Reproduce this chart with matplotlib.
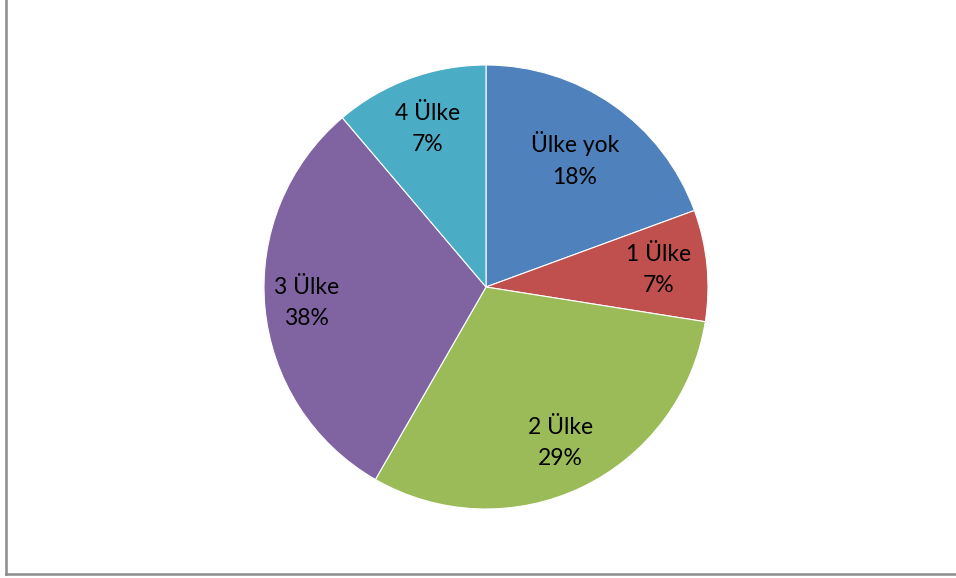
import matplotlib.pyplot as plt
import numpy as np

# slice labels as printed on the chart
categories = ["Ülke yok", "1 Ülke", "2 Ülke", "3 Ülke", "4 Ülke"]
pct_labels = ["18%", "7%", "29%", "38%", "7%"]
# slice sizes as drawn
values = [19.4, 8.1, 30.8, 30.5, 11.2]
colors = ["#4F81BD", "#C0504D", "#9BBB59", "#8064A2", "#4BACC6"]
label_dist = [0.70, 0.78, 0.78, 0.81, 0.76]

W, H = 956, 578
fig = plt.figure(figsize=(W / 100, H / 100), dpi=100)
ax = fig.add_axes([0, 0, 1, 1])

cx, cy, r = 486, H - 287, 222
wedges, _ = ax.pie(values, colors=colors, startangle=90, counterclock=False,
                   center=(cx, cy), radius=r, frame=True,
                   wedgeprops=dict(edgecolor="white", linewidth=0.8))
ax.set_xlim(0, W)
ax.set_ylim(0, H)
ax.set_aspect("equal")
ax.axis("off")

for w, cat, pct, d in zip(wedges, categories, pct_labels, label_dist):
    ang = np.deg2rad((w.theta1 + w.theta2) / 2)
    x = cx + d * r * np.cos(ang)
    y = cy + d * r * np.sin(ang)
    ax.text(x, y, cat + "\n" + pct, ha="center", va="center",
            fontsize=16.5, family="Lato", linespacing=1.6)

# chart border (only left and bottom visible)
fig.add_artist(plt.Line2D([6 / W, 6 / W], [1, 1 - 574 / H], color="#8c8c8c", lw=1.8))
fig.add_artist(plt.Line2D([6 / W, 1], [1 - 574 / H, 1 - 574 / H], color="#8c8c8c", lw=1.8))

fig.savefig("out.png", dpi=100)
